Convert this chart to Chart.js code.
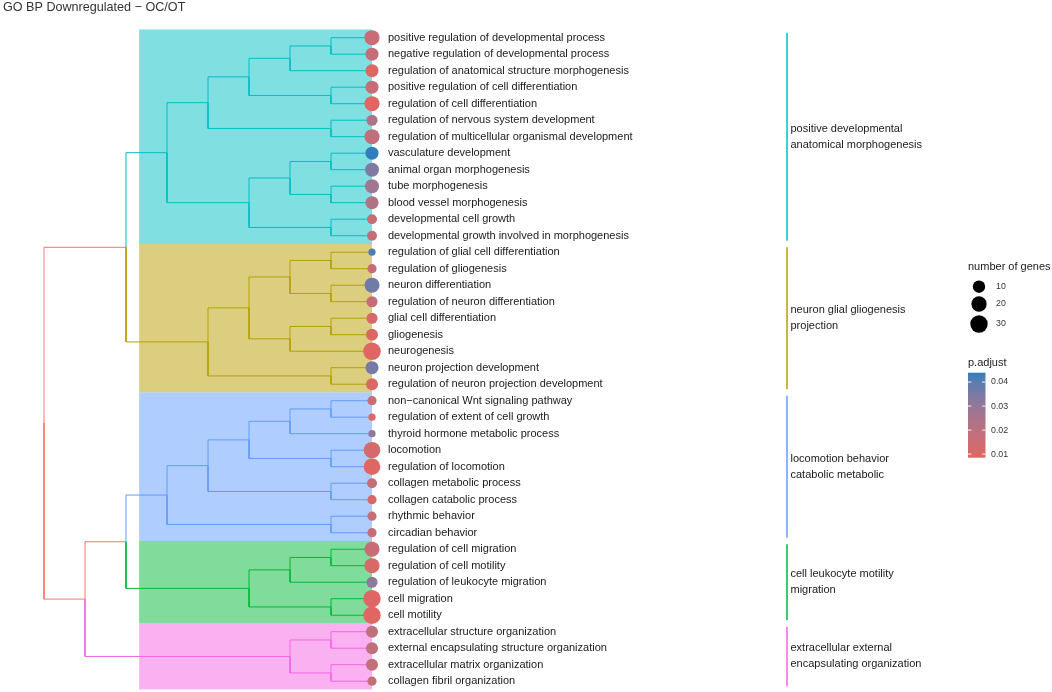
<!DOCTYPE html>
<html>
<head>
<meta charset="utf-8">
<title>GO BP Downregulated − OC/OT</title>
<script src="https://cdn.jsdelivr.net/npm/chart.js@4.4.1/dist/chart.umd.min.js"></script>
<style>
  html, body { margin: 0; padding: 0; background: #fff; }
  #wrap { width: 1052px; height: 692px; position: relative; }
</style>
</head>
<body>
<div id="wrap"><canvas id="tree"></canvas></div>
<script>
// ---- data (rows top to bottom) ----
const terms = [
    'positive regulation of developmental process',
    'negative regulation of developmental process',
    'regulation of anatomical structure morphogenesis',
    'positive regulation of cell differentiation',
    'regulation of cell differentiation',
    'regulation of nervous system development',
    'regulation of multicellular organismal development',
    'vasculature development',
    'animal organ morphogenesis',
    'tube morphogenesis',
    'blood vessel morphogenesis',
    'developmental cell growth',
    'developmental growth involved in morphogenesis',
    'regulation of glial cell differentiation',
    'regulation of gliogenesis',
    'neuron differentiation',
    'regulation of neuron differentiation',
    'glial cell differentiation',
    'gliogenesis',
    'neurogenesis',
    'neuron projection development',
    'regulation of neuron projection development',
    'non\u2212canonical Wnt signaling pathway',
    'regulation of extent of cell growth',
    'thyroid hormone metabolic process',
    'locomotion',
    'regulation of locomotion',
    'collagen metabolic process',
    'collagen catabolic process',
    'rhythmic behavior',
    'circadian behavior',
    'regulation of cell migration',
    'regulation of cell motility',
    'regulation of leukocyte migration',
    'cell migration',
    'cell motility',
    'extracellular structure organization',
    'external encapsulating structure organization',
    'extracellular matrix organization',
    'collagen fibril organization'
];
const geneCounts = [19, 12, 12, 12, 19, 7, 19, 12, 15, 15, 12, 5, 5,
                    3, 4, 19, 7, 7, 9, 31, 12, 9,
                    4, 3, 3, 26, 26, 5, 4, 4, 4,
                    19, 19, 7, 30, 30,
                    9, 9, 9, 4];
const pAdjust = [0.016, 0.017, 0.009, 0.016, 0.0085, 0.024, 0.018, 0.0439, 0.034, 0.027, 0.022, 0.017, 0.017,
                 0.041, 0.016, 0.037, 0.017, 0.011, 0.0095, 0.0088, 0.036, 0.0095,
                 0.016, 0.0095, 0.031, 0.012, 0.009, 0.017, 0.010, 0.017, 0.017,
                 0.016, 0.011, 0.031, 0.0088, 0.0088,
                 0.019, 0.019, 0.018, 0.017];

const clusterSizes = [13, 9, 9, 5, 4];
const clusterLabels = [
    ['positive developmental', 'anatomical morphogenesis'],
    ['neuron glial gliogenesis', 'projection'],
    ['locomotion behavior', 'catabolic metabolic'],
    ['cell leukocyte motility', 'migration'],
    ['extracellular external', 'encapsulating organization']
];
const clusterColors = ['#00BFC4', '#B79F00', '#619CFF', '#00BA38', '#F564E3'];
const rootColor = '#F8766D';

// hclust-like merges: numbers are leaf rows, 'mN' refers to merge N; third value = merge level
const merges = [
    [0, 1, 1], ['m0', 2, 2], [3, 4, 1], ['m1', 'm2', 3], [5, 6, 1], ['m3', 'm4', 4],
    [7, 8, 1], [9, 10, 1], ['m6', 'm7', 2], [11, 12, 1], ['m8', 'm9', 3], ['m5', 'm10', 5],
    [13, 14, 1], [15, 16, 1], ['m12', 'm13', 2], [17, 18, 1], ['m15', 19, 2], ['m14', 'm16', 3],
    [20, 21, 1], ['m17', 'm18', 4], ['m11', 'm19', 6],
    [22, 23, 1], ['m21', 24, 2], [25, 26, 1], ['m22', 'm23', 3], [27, 28, 1], ['m24', 'm25', 4],
    [29, 30, 1], ['m26', 'm27', 5],
    [31, 32, 1], ['m29', 33, 2], [34, 35, 1], ['m30', 'm31', 3], ['m28', 'm32', 6],
    [36, 37, 1], [38, 39, 1], ['m34', 'm35', 2], ['m33', 'm36', 7], ['m20', 'm37', 8]
];

const sizeBreaks = [10, 20, 30];
const colorBreaks = [0.01, 0.02, 0.03, 0.04];
const lowColor = '#e06663', highColor = '#327eba';

// ---- layout ----
const W = 1052, H = 692;
const leafPx = 372, levelPx = 41;
const firstRowPx = 37.7, rowPx = 16.5;
const hilightLevel = 5.68;
const radiusRange = [3.6, 8.8];
const FONT = '"Liberation Sans", Arial, sans-serif';

// ---- helpers ----
function hexToRgb(h) { const n = parseInt(h.slice(1), 16); return [(n >> 16) & 255, (n >> 8) & 255, n & 255]; }
function rgbToLab([r, g, b]) {
    const f = c => { c /= 255; return c <= 0.04045 ? c / 12.92 : Math.pow((c + 0.055) / 1.055, 2.4); };
    const R = f(r), G = f(g), B = f(b);
    const g3 = t => t > 0.008856 ? Math.cbrt(t) : 7.787 * t + 16 / 116;
    const X = g3((R * 0.4124 + G * 0.3576 + B * 0.1805) / 0.95047);
    const Y = g3(R * 0.2126 + G * 0.7152 + B * 0.0722);
    const Z = g3((R * 0.0193 + G * 0.1192 + B * 0.9505) / 1.08883);
    return [116 * Y - 16, 500 * (X - Y), 200 * (Y - Z)];
}
function labToRgb([L, a, b]) {
    let Y = (L + 16) / 116, X = a / 500 + Y, Z = Y - b / 200;
    const g = t => t * t * t > 0.008856 ? t * t * t : (t - 16 / 116) / 7.787;
    X = g(X) * 0.95047; Y = g(Y); Z = g(Z) * 1.08883;
    const R = X * 3.2406 - Y * 1.5372 - Z * 0.4986;
    const G = -X * 0.9689 + Y * 1.8758 + Z * 0.0415;
    const B = X * 0.0557 - Y * 0.2040 + Z * 1.0570;
    const f = c => { c = c > 0.0031308 ? 1.055 * Math.pow(c, 1 / 2.4) - 0.055 : 12.92 * c; return Math.round(Math.min(1, Math.max(0, c)) * 255); };
    return [f(R), f(G), f(B)];
}
const labLow = rgbToLab(hexToRgb(lowColor)), labHigh = rgbToLab(hexToRgb(highColor));
const pMin = Math.min(...pAdjust), pMax = Math.max(...pAdjust);
function colorOf(p) {
    const t = Math.min(1, Math.max(0, (p - pMin) / (pMax - pMin)));
    const rgb = labToRgb(labLow.map((v, i) => v + (labHigh[i] - v) * t));
    return `rgb(${rgb[0]}, ${rgb[1]}, ${rgb[2]})`;
}
const cMin = Math.min(...geneCounts), cMax = Math.max(...geneCounts);
function radiusOf(c) {
    const t = Math.max(0, (c - cMin) / (cMax - cMin));
    return radiusRange[0] + (radiusRange[1] - radiusRange[0]) * Math.sqrt(t);
}
function withAlpha(hex, a) { const [r, g, b] = hexToRgb(hex); return `rgba(${r}, ${g}, ${b}, ${a})`; }

// ---- tree geometry ----
const clusterOf = [];
clusterSizes.forEach((n, k) => { for (let i = 0; i < n; i++) clusterOf.push(k); });
const nodes = {};
const ref = r => typeof r === 'number' ? { y: r, h: 0, group: clusterOf[r] } : nodes[r];
const edgesByGroup = {};
merges.forEach(([a, b, h], i) => {
    const kids = [ref(a), ref(b)];
    const node = { y: (kids[0].y + kids[1].y) / 2, h, group: kids[0].group === kids[1].group ? kids[0].group : -1 };
    nodes['m' + i] = node;
    kids.forEach(k => {
        (edgesByGroup[k.group] = edgesByGroup[k.group] || []).push(
            { x: h, y: node.y }, { x: h, y: k.y }, { x: k.h, y: k.y }, { x: k.h, y: null });
    });
});

const lineDatasets = Object.keys(edgesByGroup).map(g => ({
    type: 'line',
    data: edgesByGroup[g],
    borderColor: g == -1 ? rootColor : clusterColors[g],
    borderWidth: 1,
    pointRadius: 0,
    pointHoverRadius: 0,
    spanGaps: false,
    fill: false,
    tension: 0,
    order: 2
}));

const dotDataset = {
    type: 'scatter',
    data: terms.map((t, i) => ({ x: 0, y: i })),
    pointRadius: geneCounts.map(radiusOf),
    pointHoverRadius: geneCounts.map(radiusOf),
    pointBackgroundColor: pAdjust.map(colorOf),
    pointBorderWidth: 0,
    order: 0
};

const xMax = leafPx / levelPx, xMin = xMax - W / levelPx;
const yMin = -firstRowPx / rowPx, yMax = yMin + H / rowPx;

const decorPlugin = {
    id: 'decor',
    beforeDatasetsDraw(chart) {
        const { ctx, scales: { x, y } } = chart;
        let start = 0;
        clusterSizes.forEach((n, k) => {
            const top = y.getPixelForValue(start - 0.5), bottom = y.getPixelForValue(start + n - 0.5);
            const left = x.getPixelForValue(hilightLevel), right = x.getPixelForValue(0);
            ctx.fillStyle = withAlpha(clusterColors[k], 0.5);
            ctx.fillRect(left, top, right - left, bottom - top);
            start += n;
        });
    },
    afterDatasetsDraw(chart) {
        const { ctx, scales: { x, y } } = chart;
        const leafX = x.getPixelForValue(0);
        ctx.save();
        ctx.textBaseline = 'middle';
        ctx.textAlign = 'left';

        // title
        ctx.fillStyle = '#333';
        ctx.font = `12.6px ${FONT}`;
        ctx.fillText('GO BP Downregulated \u2212 OC/OT', 3, 8);

        // term labels
        ctx.fillStyle = '#1a1a1a';
        ctx.font = `11px ${FONT}`;
        terms.forEach((t, i) => ctx.fillText(t, leafX + 16, y.getPixelForValue(i)));

        // cluster bars + labels
        let start = 0;
        const barX = leafX + 415;
        clusterSizes.forEach((n, k) => {
            ctx.strokeStyle = clusterColors[k];
            ctx.lineWidth = 1.5;
            ctx.beginPath();
            ctx.moveTo(barX, y.getPixelForValue(start - 0.3));
            ctx.lineTo(barX, y.getPixelForValue(start + n - 1 + 0.3));
            ctx.stroke();
            const mid = y.getPixelForValue(start + (n - 1) / 2);
            ctx.fillStyle = '#1a1a1a';
            clusterLabels[k].forEach((line, j) => ctx.fillText(line, barX + 3.5, mid - 8 + j * 16));
            start += n;
        });

        // size legend
        const lx = 968;
        ctx.font = `11px ${FONT}`;
        ctx.fillText('number of genes', lx, 267);
        const sizeY = [286.7, 304, 324];
        ctx.font = `8.8px ${FONT}`;
        sizeBreaks.forEach((c, i) => {
            ctx.fillStyle = '#000';
            ctx.beginPath();
            ctx.arc(979, sizeY[i], radiusOf(c), 0, Math.PI * 2);
            ctx.fill();
            ctx.fillStyle = '#333';
            ctx.fillText(String(c), 996, sizeY[i]);
        });

        // colour legend
        ctx.fillStyle = '#1a1a1a';
        ctx.font = `11px ${FONT}`;
        ctx.fillText('p.adjust', lx, 362.7);
        const barTop = 372.7, barBottom = 457.7, barW = 17.5;
        const grad = ctx.createLinearGradient(0, barBottom, 0, barTop);
        for (let s = 0; s <= 20; s++) grad.addColorStop(s / 20, colorOf(pMin + (pMax - pMin) * s / 20));
        ctx.fillStyle = grad;
        ctx.fillRect(lx, barTop, barW, barBottom - barTop);
        ctx.font = `8.8px ${FONT}`;
        colorBreaks.forEach(p => {
            const py = barBottom - (p - pMin) / (pMax - pMin) * (barBottom - barTop);
            ctx.strokeStyle = 'rgba(255,255,255,0.9)';
            ctx.lineWidth = 1;
            ctx.beginPath();
            ctx.moveTo(lx, py); ctx.lineTo(lx + 3.5, py);
            ctx.moveTo(lx + barW - 3.5, py); ctx.lineTo(lx + barW, py);
            ctx.stroke();
            ctx.fillStyle = '#333';
            ctx.fillText(p.toFixed(2), 991, py);
        });
        ctx.restore();
    }
};

new Chart(document.getElementById('tree'), {
    type: 'scatter',
    data: { datasets: [dotDataset, ...lineDatasets] },
    options: {
        responsive: true,
        maintainAspectRatio: false,
        animation: false,
        events: [],
        layout: { padding: 0, autoPadding: false },
        plugins: { legend: { display: false }, tooltip: { enabled: false } },
        scales: {
            x: { type: 'linear', reverse: true, min: xMin, max: xMax, display: false },
            y: { type: 'linear', reverse: true, min: yMin, max: yMax, display: false }
        }
    },
    plugins: [decorPlugin]
});
</script>
</body>
</html>
